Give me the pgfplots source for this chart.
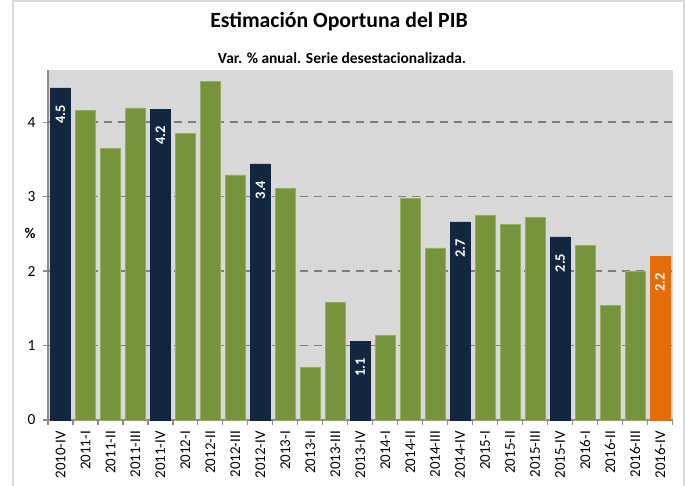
\documentclass[border=0pt]{standalone}
\usepackage{fontspec}
\setmainfont{Carlito}
\usepackage{pgfplots}
\pgfplotsset{compat=1.18}
\definecolor{navy}{HTML}{12263F}
\definecolor{grn}{HTML}{77933C}
\definecolor{grnedge}{HTML}{93AE62}
\definecolor{org}{HTML}{E46C0A}
\definecolor{plotbg}{HTML}{D9D9D9}
\definecolor{gridc}{HTML}{7F7F7F}
\definecolor{axc}{HTML}{8C8C8C}
\begin{document}
\begin{tikzpicture}[x=1bp,y=1bp]
\useasboundingbox (0,0) rectangle (686,486);
\draw[plotbg, line width=2bp] (13,487) -- (13,484.5) -- (684,484.5) -- (684,-1);
\draw[plotbg, line width=2bp] (13,484.5) -- (13,-1);
\node[font=\fontsize{21.8}{26}\selectfont\bfseries] at (339,464) {Estimación Oportuna del PIB};
\node[font=\fontsize{15.5}{18}\selectfont\bfseries] at (342,428) {Var. \% anual. Serie desestacionalizada.};
\begin{axis}[
  at={(48bp,66bp)}, anchor=south west,
  scale only axis, width=624.5bp, height=350bp,
  xmin=-0.5, xmax=24.5, ymin=0, ymax=4.7,
  /pgf/number format/assume math mode=true,
  axis background/.style={fill=plotbg},
  axis x line*=bottom, axis y line*=left,
  axis line style={axc, line width=1.5bp},
  ytick={0,1,2,3,4},
  extra y ticks={1,2,3,4}, extra y tick labels={},
  extra y tick style={grid=major, major grid style={gridc, line width=1.6bp, dash pattern=on 8bp off 6bp}, major tick length=0pt},
  ytick style={axc, line width=1.2bp},
  major tick length=5bp,
  tick align=outside,
  xtick={0,...,24},
  xticklabels={2010-IV,2011-I,2011-II,2011-III,2011-IV,2012-I,2012-II,2012-III,2012-IV,2013-I,2013-II,2013-III,2013-IV,2014-I,2014-II,2014-III,2014-IV,2015-I,2015-II,2015-III,2015-IV,2016-I,2016-II,2016-III,2016-IV},
  x tick style={draw=none},
  minor xtick={-0.5,0.5,...,24.5},
  minor tick length=5bp,
  minor x tick style={axc, line width=1.2bp, draw=axc},
  xticklabel style={rotate=90, anchor=east, font=\fontsize{15}{16}\selectfont, inner sep=1bp},
  yticklabel style={font=\fontsize{15.5}{16}\selectfont},
  xticklabel shift=5bp,
  yticklabel shift=4bp,
  ylabel={\textbf{\%}}, ylabel style={rotate=-90, font=\fontsize{15}{16}\selectfont},
  ylabel style={at={(axis description cs:0,0.532)}, anchor=center, xshift=-18bp},
  ybar, bar width=0.8, bar shift=0pt,
  clip=false,
  every node near coord/.append style={rotate=90, anchor=east, text=white, font=\fontsize{14.5}{16}\selectfont\bfseries, outer xsep=16bp, inner sep=1bp},
]
\addplot[fill=grn, draw=grnedge, line width=0.8bp] coordinates {
(1,4.16) (2,3.65) (3,4.19) (5,3.85) (6,4.55) (7,3.29) (9,3.11) (10,0.71) (11,1.58)
(13,1.14) (14,2.97) (15,2.31) (17,2.75) (18,2.62) (19,2.72) (21,2.34) (22,1.54) (23,1.99)};
\addplot[fill=navy, draw=navy, line width=0.5bp,
  nodes near coords, point meta=explicit symbolic] table[meta=lab] {
x y lab
0 4.46 4.5
4 4.17 4.2
8 3.44 3.4
12 1.06 1.1
16 2.66 2.7
20 2.46 2.5
};
\addplot[fill=org, draw=org, line width=0.5bp,
  nodes near coords, point meta=explicit symbolic] table[meta=lab] {
x y lab
24 2.20 2.2
};
\end{axis}
\end{tikzpicture}
\end{document}
